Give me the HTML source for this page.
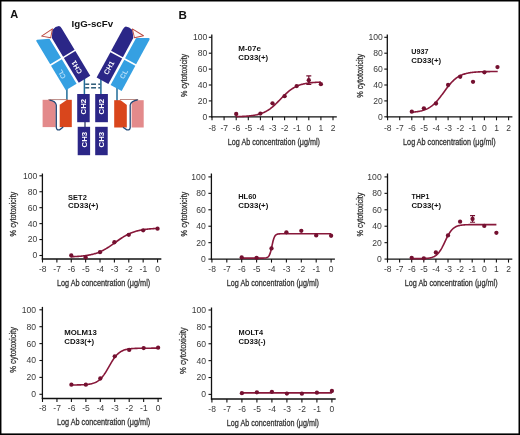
<!DOCTYPE html>
<html><head><meta charset="utf-8"><style>
html,body{margin:0;padding:0;background:#fff;}
svg{display:block;font-family:"Liberation Sans", sans-serif;will-change:transform;}
</style></head><body>
<svg width="520" height="435" viewBox="0 0 520 435">
<rect x="0" y="0" width="520" height="435" fill="#fff"/>
<text x="10.2" y="17.8" font-size="11" font-weight="bold" fill="#111">A</text>
<text x="178.4" y="18.5" font-size="11.6" font-weight="bold" fill="#111">B</text>
<text x="71.5" y="27.2" font-size="9" font-weight="bold" textLength="41.6" lengthAdjust="spacingAndGlyphs" fill="#111">IgG-scFv</text>
<line x1="84.4" y1="78" x2="84.4" y2="95" stroke="#1f6b98" stroke-width="1.5"/>
<line x1="100.9" y1="78" x2="100.9" y2="95" stroke="#1f6b98" stroke-width="1.5"/>
<line x1="66.9" y1="86" x2="66.9" y2="101" stroke="#1f6b98" stroke-width="1.5"/>
<line x1="117.0" y1="86" x2="117.0" y2="101" stroke="#1f6b98" stroke-width="1.5"/>
<line x1="85.2" y1="84.2" x2="89.2" y2="84.2" stroke="#1d4f6e" stroke-width="1.4"/>
<line x1="91.1" y1="84.2" x2="96" y2="84.2" stroke="#1d4f6e" stroke-width="1.4"/>
<line x1="98.3" y1="84.2" x2="100.2" y2="84.2" stroke="#1d4f6e" stroke-width="1.4"/>
<line x1="85.2" y1="87.8" x2="89.2" y2="87.8" stroke="#1d4f6e" stroke-width="1.4"/>
<line x1="91.1" y1="87.8" x2="96" y2="87.8" stroke="#1d4f6e" stroke-width="1.4"/>
<line x1="98.3" y1="87.8" x2="100.2" y2="87.8" stroke="#1d4f6e" stroke-width="1.4"/>
<g transform="translate(51.3,38.6) rotate(-31)">
<path d="M-14.2,-5.3 Q-14.2,-6.7 -12.8,-6.4 L-1.6,-0.9 L-1.6,21.5 L-14.2,21.5 Z" fill="#35a0e2"/>
<path d="M-14.2,23.1 L-1.6,23.1 L-1.6,51.8 L-14.2,51.8 Z" fill="#35a0e2"/>
<path d="M0.8,-0.2 L5.4,-6.9 Q10,-8.4 13,-6.8 Q14.2,-5.6 14.2,-3 L14.2,21.6 L0.8,21.6 Z" fill="#2b2687"/>
<path d="M0.8,23.1 L14.2,23.1 L14.2,52 L0.8,52 Z" fill="#2b2687"/>
<path d="M-7.1,-7.1 L6.0,-7.8 L-0.1,-1.0 Z" fill="#fff8f6" stroke="#b9473f" stroke-width="0.9" stroke-linejoin="round"/>
</g>
<g transform="translate(185.2,0) scale(-1,1) translate(51.3,38.6) rotate(-28.5)">
<path d="M-14.2,-6.5 Q-14.2,-7.9 -12.8,-7.6 L-2.2,-2.0 L-1.6,-1.4 L-1.6,21.5 L-14.2,21.5 Z" fill="#35a0e2"/>
<path d="M-14.2,23.1 L-1.6,23.1 L-1.6,51.8 L-14.2,51.8 Z" fill="#35a0e2"/>
<path d="M0.8,-0.2 L5.4,-6.9 Q10,-8.4 13,-6.8 Q14.2,-5.6 14.2,-3 L14.2,21.6 L0.8,21.6 Z" fill="#2b2687"/>
<path d="M0.8,23.1 L14.2,23.1 L14.2,52 L0.8,52 Z" fill="#2b2687"/>
<path d="M-7.1,-7.1 L6.0,-7.8 L-0.1,-1.0 Z" fill="#fff8f6" stroke="#b9473f" stroke-width="0.9" stroke-linejoin="round"/>
</g>
<g transform="translate(51.3,38.6) rotate(-31)"><text transform="translate(7.5,37.6) rotate(-90)" font-size="7.1" font-weight="bold" fill="#fff" text-anchor="middle" dominant-baseline="central">CH1</text><text transform="translate(-9.0,36.0) rotate(-90)" font-size="7.1" font-weight="bold" fill="#b5def9" text-anchor="middle" dominant-baseline="central">CL</text></g>
<g transform="translate(133.9,38.6) rotate(28.5)"><text transform="translate(-7.5,37.6) rotate(-90)" font-size="7.1" font-weight="bold" fill="#fff" text-anchor="middle" dominant-baseline="central">CH1</text><text transform="translate(8.6,36.0) rotate(-90)" font-size="7.1" font-weight="bold" fill="#b5def9" text-anchor="middle" dominant-baseline="central">CL</text></g>
<rect x="77.2" y="94.0" width="12.5" height="28.2" fill="#2b2687"/>
<text transform="translate(83.65,106.70) rotate(-90)" font-size="7.8" font-weight="bold" fill="#fff" text-anchor="middle" dominant-baseline="central">CH2</text>
<rect x="95.2" y="94.0" width="12.7" height="28.2" fill="#2b2687"/>
<text transform="translate(101.75,106.70) rotate(-90)" font-size="7.8" font-weight="bold" fill="#fff" text-anchor="middle" dominant-baseline="central">CH2</text>
<rect x="77.7" y="126.8" width="12.4" height="28.4" fill="#2b2687"/>
<text transform="translate(84.10,139.60) rotate(-90)" font-size="7.8" font-weight="bold" fill="#fff" text-anchor="middle" dominant-baseline="central">CH3</text>
<rect x="95.2" y="126.8" width="12.5" height="28.4" fill="#2b2687"/>
<text transform="translate(101.65,139.60) rotate(-90)" font-size="7.8" font-weight="bold" fill="#fff" text-anchor="middle" dominant-baseline="central">CH3</text>
<line x1="85" y1="122" x2="85" y2="127" stroke="#1e2a5a" stroke-width="1.2"/>
<rect x="42.6" y="99.8" width="13.2" height="27.3" fill="#e38a8b"/>
<rect x="59.7" y="99.8" width="12.1" height="27.3" fill="#d9461c"/>
<path d="M48.3,99.6 L67.4,99.6 L60.1,104.6 L56.7,104.6 Q55,100.8 48.3,99.6 Z" fill="#fff"/>
<path d="M48.3,99.6 L67.2,99.6" stroke="#8a3a30" stroke-width="0.6"/>
<path d="M49.5,100.2 Q55.6,101.2 56.3,105 L56.3,127.5 Q56.6,130.6 59.6,129.8 L63.2,127" fill="none" stroke="#234a78" stroke-width="1.3"/>
<rect x="114.2" y="100.2" width="12.6" height="27.3" fill="#d9461c"/>
<rect x="131.6" y="100.2" width="12.1" height="27.3" fill="#e38a8b"/>
<path d="M119.7,99.5 L138.2,99.5 Q131,100.8 129.3,104.7 L126.6,104.7 Z" fill="#fff"/>
<path d="M119.9,99.5 L138.2,99.5" stroke="#8a3a30" stroke-width="0.6"/>
<path d="M137.7,99.8 Q131,100.8 130.2,105 L130.2,127.6 Q129.9,130.6 126.8,129.8 L123,127.3" fill="none" stroke="#234a78" stroke-width="1.3"/>
<line x1="211.8" y1="34.4" x2="211.8" y2="117.39999999999999" stroke="#111" stroke-width="1.3"/>
<line x1="211.20000000000002" y1="116.8" x2="336.8" y2="116.8" stroke="#111" stroke-width="1.3"/>
<line x1="208.8" y1="116.80" x2="211.8" y2="116.80" stroke="#111" stroke-width="1.1"/>
<text x="207.40" y="119.70" font-size="8.6" text-anchor="end" fill="#3a3a3a">0</text>
<line x1="208.8" y1="100.90" x2="211.8" y2="100.90" stroke="#111" stroke-width="1.1"/>
<text x="207.40" y="103.80" font-size="8.6" text-anchor="end" fill="#3a3a3a">20</text>
<line x1="208.8" y1="85.00" x2="211.8" y2="85.00" stroke="#111" stroke-width="1.1"/>
<text x="207.40" y="87.90" font-size="8.6" text-anchor="end" fill="#3a3a3a">40</text>
<line x1="208.8" y1="69.10" x2="211.8" y2="69.10" stroke="#111" stroke-width="1.1"/>
<text x="207.40" y="72.00" font-size="8.6" text-anchor="end" fill="#3a3a3a">60</text>
<line x1="208.8" y1="53.20" x2="211.8" y2="53.20" stroke="#111" stroke-width="1.1"/>
<text x="207.40" y="56.10" font-size="8.6" text-anchor="end" fill="#3a3a3a">80</text>
<line x1="208.8" y1="37.30" x2="211.8" y2="37.30" stroke="#111" stroke-width="1.1"/>
<text x="207.40" y="40.20" font-size="8.6" text-anchor="end" fill="#3a3a3a">100</text>
<line x1="212.00" y1="116.8" x2="212.00" y2="120.3" stroke="#111" stroke-width="1.1"/>
<text x="212.20" y="130.90" font-size="8.5" text-anchor="middle" fill="#3a3a3a">-8</text>
<line x1="224.10" y1="116.8" x2="224.10" y2="120.3" stroke="#111" stroke-width="1.1"/>
<text x="224.30" y="130.90" font-size="8.5" text-anchor="middle" fill="#3a3a3a">-7</text>
<line x1="236.20" y1="116.8" x2="236.20" y2="120.3" stroke="#111" stroke-width="1.1"/>
<text x="236.40" y="130.90" font-size="8.5" text-anchor="middle" fill="#3a3a3a">-6</text>
<line x1="248.30" y1="116.8" x2="248.30" y2="120.3" stroke="#111" stroke-width="1.1"/>
<text x="248.50" y="130.90" font-size="8.5" text-anchor="middle" fill="#3a3a3a">-5</text>
<line x1="260.40" y1="116.8" x2="260.40" y2="120.3" stroke="#111" stroke-width="1.1"/>
<text x="260.60" y="130.90" font-size="8.5" text-anchor="middle" fill="#3a3a3a">-4</text>
<line x1="272.50" y1="116.8" x2="272.50" y2="120.3" stroke="#111" stroke-width="1.1"/>
<text x="272.70" y="130.90" font-size="8.5" text-anchor="middle" fill="#3a3a3a">-3</text>
<line x1="284.60" y1="116.8" x2="284.60" y2="120.3" stroke="#111" stroke-width="1.1"/>
<text x="284.80" y="130.90" font-size="8.5" text-anchor="middle" fill="#3a3a3a">-2</text>
<line x1="296.70" y1="116.8" x2="296.70" y2="120.3" stroke="#111" stroke-width="1.1"/>
<text x="296.90" y="130.90" font-size="8.5" text-anchor="middle" fill="#3a3a3a">-1</text>
<line x1="308.80" y1="116.8" x2="308.80" y2="120.3" stroke="#111" stroke-width="1.1"/>
<text x="308.80" y="130.90" font-size="8.5" text-anchor="middle" fill="#3a3a3a">0</text>
<line x1="320.90" y1="116.8" x2="320.90" y2="120.3" stroke="#111" stroke-width="1.1"/>
<text x="320.90" y="130.90" font-size="8.5" text-anchor="middle" fill="#3a3a3a">1</text>
<line x1="333.00" y1="116.8" x2="333.00" y2="120.3" stroke="#111" stroke-width="1.1"/>
<text x="333.00" y="130.90" font-size="8.5" text-anchor="middle" fill="#3a3a3a">2</text>
<text x="227.8" y="144.9" font-size="9.7" textLength="92.2" lengthAdjust="spacingAndGlyphs" fill="#333" stroke="#333" stroke-width="0.3">Log Ab concentration (&#956;g/ml)</text>
<text transform="translate(187.30,75.45) rotate(-90)" font-size="9.6" text-anchor="middle" textLength="43.2" lengthAdjust="spacingAndGlyphs" fill="#333" stroke="#333" stroke-width="0.3">% cytotoxicity</text>
<text x="238.30" y="50.95" font-size="7.9" font-weight="bold" textLength="22.60" lengthAdjust="spacingAndGlyphs" fill="#111">M-07e</text>
<text x="238.30" y="59.85" font-size="7.9" font-weight="bold" textLength="29.80" lengthAdjust="spacingAndGlyphs" fill="#111">CD33(+)</text>
<polyline points="236.20,116.61 236.91,116.59 237.61,116.58 238.32,116.56 239.02,116.54 239.73,116.51 240.44,116.49 241.14,116.46 241.85,116.43 242.55,116.40 243.26,116.37 243.96,116.33 244.67,116.29 245.38,116.25 246.08,116.20 246.79,116.15 247.49,116.09 248.20,116.03 248.91,115.97 249.61,115.90 250.32,115.82 251.02,115.74 251.73,115.65 252.43,115.55 253.14,115.45 253.85,115.33 254.55,115.21 255.26,115.08 255.96,114.94 256.67,114.79 257.38,114.62 258.08,114.45 258.79,114.26 259.49,114.05 260.20,113.84 260.90,113.60 261.61,113.35 262.32,113.08 263.02,112.80 263.73,112.49 264.43,112.17 265.14,111.82 265.85,111.46 266.55,111.07 267.26,110.66 267.96,110.23 268.67,109.77 269.37,109.29 270.08,108.79 270.79,108.26 271.49,107.71 272.20,107.14 272.90,106.55 273.61,105.93 274.31,105.30 275.02,104.65 275.73,103.98 276.43,103.30 277.14,102.60 277.84,101.89 278.55,101.18 279.26,100.45 279.96,99.73 280.67,99.00 281.37,98.27 282.08,97.55 282.78,96.83 283.49,96.12 284.20,95.42 284.90,94.74 285.61,94.07 286.31,93.41 287.02,92.78 287.73,92.16 288.43,91.56 289.14,90.99 289.84,90.44 290.55,89.91 291.25,89.40 291.96,88.92 292.67,88.46 293.37,88.02 294.08,87.61 294.78,87.22 295.49,86.85 296.20,86.50 296.90,86.17 297.61,85.87 298.31,85.58 299.02,85.31 299.73,85.05 300.43,84.82 301.14,84.60 301.84,84.39 302.55,84.20 303.25,84.02 303.96,83.86 304.67,83.70 305.37,83.56 306.08,83.43 306.78,83.30 307.49,83.19 308.19,83.08 308.90,82.99 309.61,82.90 310.31,82.81 311.02,82.74 311.72,82.66 312.43,82.60 313.14,82.54 313.84,82.48 314.55,82.43 315.25,82.38 315.96,82.34 316.67,82.30 317.37,82.26 318.08,82.22 318.78,82.19 319.49,82.16 320.19,82.14 320.90,82.11" fill="none" stroke="#88183a" stroke-width="1.6"/>
<path d="M308.80,84.36V75.86M306.30,84.36h5M306.30,75.86h5" stroke="#741030" stroke-width="1.2" fill="none"/>
<circle cx="236.20" cy="114.02" r="2.15" fill="#741030"/>
<circle cx="260.40" cy="113.62" r="2.15" fill="#741030"/>
<circle cx="272.50" cy="103.28" r="2.15" fill="#741030"/>
<circle cx="284.60" cy="96.13" r="2.15" fill="#741030"/>
<circle cx="296.70" cy="86.03" r="2.15" fill="#741030"/>
<circle cx="308.80" cy="80.23" r="2.15" fill="#741030"/>
<circle cx="320.90" cy="84.20" r="2.15" fill="#741030"/>
<line x1="387.3" y1="34.4" x2="387.3" y2="117.39999999999999" stroke="#111" stroke-width="1.3"/>
<line x1="386.7" y1="116.8" x2="512.4" y2="116.8" stroke="#111" stroke-width="1.3"/>
<line x1="384.3" y1="116.80" x2="387.3" y2="116.80" stroke="#111" stroke-width="1.1"/>
<text x="382.80" y="119.70" font-size="8.6" text-anchor="end" fill="#3a3a3a">0</text>
<line x1="384.3" y1="100.90" x2="387.3" y2="100.90" stroke="#111" stroke-width="1.1"/>
<text x="382.80" y="103.80" font-size="8.6" text-anchor="end" fill="#3a3a3a">20</text>
<line x1="384.3" y1="85.00" x2="387.3" y2="85.00" stroke="#111" stroke-width="1.1"/>
<text x="382.80" y="87.90" font-size="8.6" text-anchor="end" fill="#3a3a3a">40</text>
<line x1="384.3" y1="69.10" x2="387.3" y2="69.10" stroke="#111" stroke-width="1.1"/>
<text x="382.80" y="72.00" font-size="8.6" text-anchor="end" fill="#3a3a3a">60</text>
<line x1="384.3" y1="53.20" x2="387.3" y2="53.20" stroke="#111" stroke-width="1.1"/>
<text x="382.80" y="56.10" font-size="8.6" text-anchor="end" fill="#3a3a3a">80</text>
<line x1="384.3" y1="37.30" x2="387.3" y2="37.30" stroke="#111" stroke-width="1.1"/>
<text x="382.80" y="40.20" font-size="8.6" text-anchor="end" fill="#3a3a3a">100</text>
<line x1="387.60" y1="116.8" x2="387.60" y2="120.3" stroke="#111" stroke-width="1.1"/>
<text x="387.80" y="130.70" font-size="8.5" text-anchor="middle" fill="#3a3a3a">-8</text>
<line x1="399.70" y1="116.8" x2="399.70" y2="120.3" stroke="#111" stroke-width="1.1"/>
<text x="399.90" y="130.70" font-size="8.5" text-anchor="middle" fill="#3a3a3a">-7</text>
<line x1="411.80" y1="116.8" x2="411.80" y2="120.3" stroke="#111" stroke-width="1.1"/>
<text x="412.00" y="130.70" font-size="8.5" text-anchor="middle" fill="#3a3a3a">-6</text>
<line x1="423.90" y1="116.8" x2="423.90" y2="120.3" stroke="#111" stroke-width="1.1"/>
<text x="424.10" y="130.70" font-size="8.5" text-anchor="middle" fill="#3a3a3a">-5</text>
<line x1="436.00" y1="116.8" x2="436.00" y2="120.3" stroke="#111" stroke-width="1.1"/>
<text x="436.20" y="130.70" font-size="8.5" text-anchor="middle" fill="#3a3a3a">-4</text>
<line x1="448.10" y1="116.8" x2="448.10" y2="120.3" stroke="#111" stroke-width="1.1"/>
<text x="448.30" y="130.70" font-size="8.5" text-anchor="middle" fill="#3a3a3a">-3</text>
<line x1="460.20" y1="116.8" x2="460.20" y2="120.3" stroke="#111" stroke-width="1.1"/>
<text x="460.40" y="130.70" font-size="8.5" text-anchor="middle" fill="#3a3a3a">-2</text>
<line x1="472.30" y1="116.8" x2="472.30" y2="120.3" stroke="#111" stroke-width="1.1"/>
<text x="472.50" y="130.70" font-size="8.5" text-anchor="middle" fill="#3a3a3a">-1</text>
<line x1="484.40" y1="116.8" x2="484.40" y2="120.3" stroke="#111" stroke-width="1.1"/>
<text x="484.40" y="130.70" font-size="8.5" text-anchor="middle" fill="#3a3a3a">0</text>
<line x1="496.50" y1="116.8" x2="496.50" y2="120.3" stroke="#111" stroke-width="1.1"/>
<text x="496.50" y="130.70" font-size="8.5" text-anchor="middle" fill="#3a3a3a">1</text>
<line x1="508.60" y1="116.8" x2="508.60" y2="120.3" stroke="#111" stroke-width="1.1"/>
<text x="508.60" y="130.70" font-size="8.5" text-anchor="middle" fill="#3a3a3a">2</text>
<text x="403.1" y="144.8" font-size="9.7" textLength="92.5" lengthAdjust="spacingAndGlyphs" fill="#333" stroke="#333" stroke-width="0.3">Log Ab concentration (&#956;g/ml)</text>
<text transform="translate(362.50,75.80) rotate(-90)" font-size="9.6" text-anchor="middle" textLength="43.9" lengthAdjust="spacingAndGlyphs" fill="#333" stroke="#333" stroke-width="0.3">% cytotoxicity</text>
<text x="411.30" y="53.75" font-size="7.9" font-weight="bold" textLength="17.10" lengthAdjust="spacingAndGlyphs" fill="#111">U937</text>
<text x="411.30" y="62.65" font-size="7.9" font-weight="bold" textLength="29.80" lengthAdjust="spacingAndGlyphs" fill="#111">CD33(+)</text>
<polyline points="411.80,112.26 412.52,112.20 413.23,112.14 413.95,112.07 414.66,112.00 415.38,111.92 416.10,111.83 416.81,111.73 417.53,111.62 418.24,111.51 418.96,111.38 419.68,111.24 420.39,111.09 421.11,110.92 421.82,110.74 422.54,110.54 423.25,110.33 423.97,110.10 424.69,109.84 425.40,109.57 426.12,109.27 426.83,108.95 427.55,108.60 428.27,108.23 428.98,107.82 429.70,107.39 430.41,106.92 431.13,106.42 431.85,105.89 432.56,105.32 433.28,104.71 433.99,104.08 434.71,103.40 435.43,102.69 436.14,101.94 436.86,101.16 437.57,100.34 438.29,99.50 439.00,98.62 439.72,97.72 440.44,96.79 441.15,95.85 441.87,94.89 442.58,93.91 443.30,92.93 444.02,91.95 444.73,90.96 445.45,89.98 446.16,89.01 446.88,88.06 447.60,87.12 448.31,86.21 449.03,85.32 449.74,84.45 450.46,83.62 451.18,82.82 451.89,82.05 452.61,81.32 453.32,80.62 454.04,79.96 454.75,79.34 455.47,78.75 456.19,78.19 456.90,77.67 457.62,77.19 458.33,76.74 459.05,76.31 459.77,75.92 460.48,75.56 461.20,75.22 461.91,74.91 462.63,74.62 463.35,74.36 464.06,74.11 464.78,73.89 465.49,73.68 466.21,73.49 466.93,73.32 467.64,73.16 468.36,73.01 469.07,72.88 469.79,72.75 470.51,72.64 471.22,72.54 471.94,72.44 472.65,72.36 473.37,72.28 474.08,72.21 474.80,72.15 475.52,72.09 476.23,72.03 476.95,71.98 477.66,71.94 478.38,71.90 479.10,71.86 479.81,71.83 480.53,71.80 481.24,71.77 481.96,71.74 482.68,71.72 483.39,71.70 484.11,71.68 484.82,71.66 485.54,71.64 486.26,71.63 486.97,71.62 487.69,71.61 488.40,71.59 489.12,71.58 489.83,71.58 490.55,71.57 491.27,71.56 491.98,71.55 492.70,71.55 493.41,71.54 494.13,71.54 494.85,71.53 495.56,71.53 496.28,71.52 496.99,71.52 497.71,71.52" fill="none" stroke="#88183a" stroke-width="1.6"/>
<circle cx="411.80" cy="111.71" r="2.15" fill="#741030"/>
<circle cx="423.90" cy="108.29" r="2.15" fill="#741030"/>
<circle cx="436.00" cy="103.52" r="2.15" fill="#741030"/>
<circle cx="448.10" cy="85.00" r="2.15" fill="#741030"/>
<circle cx="460.20" cy="76.73" r="2.15" fill="#741030"/>
<circle cx="473.03" cy="81.82" r="2.15" fill="#741030"/>
<circle cx="484.40" cy="72.28" r="2.15" fill="#741030"/>
<circle cx="497.47" cy="67.11" r="2.15" fill="#741030"/>
<line x1="42.4" y1="173.5" x2="42.4" y2="259.6" stroke="#111" stroke-width="1.3"/>
<line x1="41.8" y1="259.0" x2="161.34000000000003" y2="259.0" stroke="#111" stroke-width="1.3"/>
<line x1="39.4" y1="255.50" x2="42.4" y2="255.50" stroke="#111" stroke-width="1.1"/>
<text x="37.40" y="258.40" font-size="8.6" text-anchor="end" fill="#3a3a3a">0</text>
<line x1="39.4" y1="239.56" x2="42.4" y2="239.56" stroke="#111" stroke-width="1.1"/>
<text x="37.40" y="242.46" font-size="8.6" text-anchor="end" fill="#3a3a3a">20</text>
<line x1="39.4" y1="223.62" x2="42.4" y2="223.62" stroke="#111" stroke-width="1.1"/>
<text x="37.40" y="226.52" font-size="8.6" text-anchor="end" fill="#3a3a3a">40</text>
<line x1="39.4" y1="207.68" x2="42.4" y2="207.68" stroke="#111" stroke-width="1.1"/>
<text x="37.40" y="210.58" font-size="8.6" text-anchor="end" fill="#3a3a3a">60</text>
<line x1="39.4" y1="191.74" x2="42.4" y2="191.74" stroke="#111" stroke-width="1.1"/>
<text x="37.40" y="194.64" font-size="8.6" text-anchor="end" fill="#3a3a3a">80</text>
<line x1="39.4" y1="175.80" x2="42.4" y2="175.80" stroke="#111" stroke-width="1.1"/>
<text x="37.40" y="178.70" font-size="8.6" text-anchor="end" fill="#3a3a3a">100</text>
<line x1="42.50" y1="259.0" x2="42.50" y2="262.5" stroke="#111" stroke-width="1.1"/>
<text x="42.70" y="272.00" font-size="8.5" text-anchor="middle" fill="#3a3a3a">-8</text>
<line x1="56.88" y1="259.0" x2="56.88" y2="262.5" stroke="#111" stroke-width="1.1"/>
<text x="57.08" y="272.00" font-size="8.5" text-anchor="middle" fill="#3a3a3a">-7</text>
<line x1="71.26" y1="259.0" x2="71.26" y2="262.5" stroke="#111" stroke-width="1.1"/>
<text x="71.46" y="272.00" font-size="8.5" text-anchor="middle" fill="#3a3a3a">-6</text>
<line x1="85.64" y1="259.0" x2="85.64" y2="262.5" stroke="#111" stroke-width="1.1"/>
<text x="85.84" y="272.00" font-size="8.5" text-anchor="middle" fill="#3a3a3a">-5</text>
<line x1="100.02" y1="259.0" x2="100.02" y2="262.5" stroke="#111" stroke-width="1.1"/>
<text x="100.22" y="272.00" font-size="8.5" text-anchor="middle" fill="#3a3a3a">-4</text>
<line x1="114.40" y1="259.0" x2="114.40" y2="262.5" stroke="#111" stroke-width="1.1"/>
<text x="114.60" y="272.00" font-size="8.5" text-anchor="middle" fill="#3a3a3a">-3</text>
<line x1="128.78" y1="259.0" x2="128.78" y2="262.5" stroke="#111" stroke-width="1.1"/>
<text x="128.98" y="272.00" font-size="8.5" text-anchor="middle" fill="#3a3a3a">-2</text>
<line x1="143.16" y1="259.0" x2="143.16" y2="262.5" stroke="#111" stroke-width="1.1"/>
<text x="143.36" y="272.00" font-size="8.5" text-anchor="middle" fill="#3a3a3a">-1</text>
<line x1="157.54" y1="259.0" x2="157.54" y2="262.5" stroke="#111" stroke-width="1.1"/>
<text x="157.54" y="272.00" font-size="8.5" text-anchor="middle" fill="#3a3a3a">0</text>
<text x="56.9" y="285.8" font-size="9.7" textLength="93.3" lengthAdjust="spacingAndGlyphs" fill="#333" stroke="#333" stroke-width="0.3">Log Ab concentration (&#956;g/ml)</text>
<text transform="translate(16.30,214.15) rotate(-90)" font-size="9.6" text-anchor="middle" textLength="44.6" lengthAdjust="spacingAndGlyphs" fill="#333" stroke="#333" stroke-width="0.3">% cytotoxicity</text>
<text x="68.10" y="199.55" font-size="7.9" font-weight="bold" textLength="18.70" lengthAdjust="spacingAndGlyphs" fill="#111">SET2</text>
<text x="68.10" y="208.45" font-size="7.9" font-weight="bold" textLength="30.30" lengthAdjust="spacingAndGlyphs" fill="#111">CD33(+)</text>
<polyline points="71.26,256.72 71.98,256.70 72.70,256.67 73.42,256.64 74.14,256.60 74.86,256.57 75.57,256.53 76.29,256.49 77.01,256.45 77.73,256.40 78.45,256.35 79.17,256.30 79.89,256.24 80.61,256.18 81.33,256.11 82.05,256.04 82.76,255.97 83.48,255.89 84.20,255.80 84.92,255.71 85.64,255.61 86.36,255.51 87.08,255.40 87.80,255.28 88.52,255.16 89.23,255.03 89.95,254.88 90.67,254.73 91.39,254.57 92.11,254.40 92.83,254.23 93.55,254.04 94.27,253.83 94.99,253.62 95.71,253.40 96.43,253.16 97.14,252.91 97.86,252.65 98.58,252.37 99.30,252.09 100.02,251.78 100.74,251.47 101.46,251.13 102.18,250.79 102.90,250.43 103.62,250.06 104.33,249.67 105.05,249.27 105.77,248.85 106.49,248.42 107.21,247.98 107.93,247.53 108.65,247.07 109.37,246.59 110.09,246.11 110.81,245.62 111.52,245.12 112.24,244.61 112.96,244.10 113.68,243.59 114.40,243.07 115.12,242.55 115.84,242.03 116.56,241.51 117.28,241.00 118.00,240.49 118.71,239.98 119.43,239.48 120.15,238.99 120.87,238.51 121.59,238.03 122.31,237.57 123.03,237.11 123.75,236.67 124.47,236.25 125.19,235.83 125.90,235.43 126.62,235.04 127.34,234.67 128.06,234.31 128.78,233.96 129.50,233.63 130.22,233.31 130.94,233.01 131.66,232.72 132.38,232.45 133.09,232.19 133.81,231.94 134.53,231.70 135.25,231.48 135.97,231.26 136.69,231.06 137.41,230.87 138.13,230.69 138.85,230.52 139.56,230.36 140.28,230.21 141.00,230.07 141.72,229.94 142.44,229.81 143.16,229.70 143.88,229.59 144.60,229.48 145.32,229.39 146.04,229.29 146.75,229.21 147.47,229.13 148.19,229.05 148.91,228.98 149.63,228.92 150.35,228.86 151.07,228.80 151.79,228.75 152.51,228.70 153.23,228.65 153.94,228.61 154.66,228.57 155.38,228.53 156.10,228.49 156.82,228.46 157.54,228.43" fill="none" stroke="#88183a" stroke-width="1.6"/>
<circle cx="71.26" cy="255.50" r="2.15" fill="#741030"/>
<circle cx="85.64" cy="257.41" r="2.15" fill="#741030"/>
<circle cx="100.02" cy="252.15" r="2.15" fill="#741030"/>
<circle cx="114.40" cy="242.27" r="2.15" fill="#741030"/>
<circle cx="128.78" cy="234.78" r="2.15" fill="#741030"/>
<circle cx="143.16" cy="230.31" r="2.15" fill="#741030"/>
<circle cx="157.54" cy="228.72" r="2.15" fill="#741030"/>
<line x1="211.4" y1="173.5" x2="211.4" y2="259.70000000000005" stroke="#111" stroke-width="1.3"/>
<line x1="210.8" y1="259.1" x2="334.90000000000003" y2="259.1" stroke="#111" stroke-width="1.3"/>
<line x1="208.4" y1="259.10" x2="211.4" y2="259.10" stroke="#111" stroke-width="1.1"/>
<text x="205.70" y="262.00" font-size="8.6" text-anchor="end" fill="#3a3a3a">0</text>
<line x1="208.4" y1="242.66" x2="211.4" y2="242.66" stroke="#111" stroke-width="1.1"/>
<text x="205.70" y="245.56" font-size="8.6" text-anchor="end" fill="#3a3a3a">20</text>
<line x1="208.4" y1="226.22" x2="211.4" y2="226.22" stroke="#111" stroke-width="1.1"/>
<text x="205.70" y="229.12" font-size="8.6" text-anchor="end" fill="#3a3a3a">40</text>
<line x1="208.4" y1="209.78" x2="211.4" y2="209.78" stroke="#111" stroke-width="1.1"/>
<text x="205.70" y="212.68" font-size="8.6" text-anchor="end" fill="#3a3a3a">60</text>
<line x1="208.4" y1="193.34" x2="211.4" y2="193.34" stroke="#111" stroke-width="1.1"/>
<text x="205.70" y="196.24" font-size="8.6" text-anchor="end" fill="#3a3a3a">80</text>
<line x1="208.4" y1="176.90" x2="211.4" y2="176.90" stroke="#111" stroke-width="1.1"/>
<text x="205.70" y="179.80" font-size="8.6" text-anchor="end" fill="#3a3a3a">100</text>
<line x1="211.90" y1="259.1" x2="211.90" y2="262.6" stroke="#111" stroke-width="1.1"/>
<text x="212.10" y="271.80" font-size="8.5" text-anchor="middle" fill="#3a3a3a">-8</text>
<line x1="226.80" y1="259.1" x2="226.80" y2="262.6" stroke="#111" stroke-width="1.1"/>
<text x="227.00" y="271.80" font-size="8.5" text-anchor="middle" fill="#3a3a3a">-7</text>
<line x1="241.70" y1="259.1" x2="241.70" y2="262.6" stroke="#111" stroke-width="1.1"/>
<text x="241.90" y="271.80" font-size="8.5" text-anchor="middle" fill="#3a3a3a">-6</text>
<line x1="256.60" y1="259.1" x2="256.60" y2="262.6" stroke="#111" stroke-width="1.1"/>
<text x="256.80" y="271.80" font-size="8.5" text-anchor="middle" fill="#3a3a3a">-5</text>
<line x1="271.50" y1="259.1" x2="271.50" y2="262.6" stroke="#111" stroke-width="1.1"/>
<text x="271.70" y="271.80" font-size="8.5" text-anchor="middle" fill="#3a3a3a">-4</text>
<line x1="286.40" y1="259.1" x2="286.40" y2="262.6" stroke="#111" stroke-width="1.1"/>
<text x="286.60" y="271.80" font-size="8.5" text-anchor="middle" fill="#3a3a3a">-3</text>
<line x1="301.30" y1="259.1" x2="301.30" y2="262.6" stroke="#111" stroke-width="1.1"/>
<text x="301.50" y="271.80" font-size="8.5" text-anchor="middle" fill="#3a3a3a">-2</text>
<line x1="316.20" y1="259.1" x2="316.20" y2="262.6" stroke="#111" stroke-width="1.1"/>
<text x="316.40" y="271.80" font-size="8.5" text-anchor="middle" fill="#3a3a3a">-1</text>
<line x1="331.10" y1="259.1" x2="331.10" y2="262.6" stroke="#111" stroke-width="1.1"/>
<text x="331.10" y="271.80" font-size="8.5" text-anchor="middle" fill="#3a3a3a">0</text>
<text x="226.8" y="285.8" font-size="9.7" textLength="92.2" lengthAdjust="spacingAndGlyphs" fill="#333" stroke="#333" stroke-width="0.3">Log Ab concentration (&#956;g/ml)</text>
<text transform="translate(186.50,214.15) rotate(-90)" font-size="9.6" text-anchor="middle" textLength="44.6" lengthAdjust="spacingAndGlyphs" fill="#333" stroke="#333" stroke-width="0.3">% cytotoxicity</text>
<text x="238.20" y="199.15" font-size="7.9" font-weight="bold" textLength="18.30" lengthAdjust="spacingAndGlyphs" fill="#111">HL60</text>
<text x="238.20" y="208.05" font-size="7.9" font-weight="bold" textLength="30.10" lengthAdjust="spacingAndGlyphs" fill="#111">CD33(+)</text>
<polyline points="241.70,258.11 242.44,258.11 243.19,258.11 243.94,258.11 244.68,258.11 245.43,258.11 246.17,258.11 246.91,258.11 247.66,258.11 248.41,258.11 249.15,258.11 249.90,258.11 250.64,258.11 251.39,258.11 252.13,258.11 252.88,258.11 253.62,258.11 254.37,258.11 255.11,258.11 255.86,258.11 256.60,258.11 257.35,258.11 258.09,258.11 258.84,258.11 259.58,258.11 260.32,258.11 261.07,258.11 261.81,258.10 262.56,258.10 263.31,258.08 264.05,258.06 264.80,258.02 265.54,257.94 266.29,257.81 267.03,257.58 267.77,257.18 268.52,256.50 269.26,255.39 270.01,253.66 270.75,251.19 271.50,248.03 272.25,244.55 272.99,241.29 273.74,238.67 274.48,236.79 275.23,235.57 275.97,234.82 276.72,234.38 277.46,234.12 278.21,233.97 278.95,233.89 279.69,233.84 280.44,233.82 281.19,233.80 281.93,233.79 282.68,233.79 283.42,233.79 284.17,233.78 284.91,233.78 285.66,233.78 286.40,233.78 287.14,233.78 287.89,233.78 288.63,233.78 289.38,233.78 290.12,233.78 290.87,233.78 291.62,233.78 292.36,233.78 293.11,233.78 293.85,233.78 294.60,233.78 295.34,233.78 296.09,233.78 296.83,233.78 297.57,233.78 298.32,233.78 299.06,233.78 299.81,233.78 300.56,233.78 301.30,233.78 302.05,233.78 302.79,233.78 303.54,233.78 304.28,233.78 305.02,233.78 305.77,233.78 306.51,233.78 307.26,233.78 308.00,233.78 308.75,233.78 309.50,233.78 310.24,233.78 310.99,233.78 311.73,233.78 312.48,233.78 313.22,233.78 313.97,233.78 314.71,233.78 315.46,233.78 316.20,233.78 316.94,233.78 317.69,233.78 318.44,233.78 319.18,233.78 319.93,233.78 320.67,233.78 321.42,233.78 322.16,233.78 322.91,233.78 323.65,233.78 324.39,233.78 325.14,233.78 325.88,233.78 326.63,233.78 327.38,233.78 328.12,233.78 328.87,233.78 329.61,233.78 330.36,233.78 331.10,233.78" fill="none" stroke="#88183a" stroke-width="1.6"/>
<circle cx="241.70" cy="257.46" r="2.15" fill="#741030"/>
<circle cx="256.60" cy="257.87" r="2.15" fill="#741030"/>
<circle cx="271.50" cy="248.41" r="2.15" fill="#741030"/>
<circle cx="286.40" cy="232.30" r="2.15" fill="#741030"/>
<circle cx="301.30" cy="230.82" r="2.15" fill="#741030"/>
<circle cx="316.20" cy="235.43" r="2.15" fill="#741030"/>
<circle cx="331.10" cy="235.76" r="2.15" fill="#741030"/>
<line x1="387.5" y1="173.5" x2="387.5" y2="259.70000000000005" stroke="#111" stroke-width="1.3"/>
<line x1="386.9" y1="259.1" x2="512.3" y2="259.1" stroke="#111" stroke-width="1.3"/>
<line x1="384.5" y1="259.10" x2="387.5" y2="259.10" stroke="#111" stroke-width="1.1"/>
<text x="381.70" y="262.00" font-size="8.6" text-anchor="end" fill="#3a3a3a">0</text>
<line x1="384.5" y1="242.66" x2="387.5" y2="242.66" stroke="#111" stroke-width="1.1"/>
<text x="381.70" y="245.56" font-size="8.6" text-anchor="end" fill="#3a3a3a">20</text>
<line x1="384.5" y1="226.22" x2="387.5" y2="226.22" stroke="#111" stroke-width="1.1"/>
<text x="381.70" y="229.12" font-size="8.6" text-anchor="end" fill="#3a3a3a">40</text>
<line x1="384.5" y1="209.78" x2="387.5" y2="209.78" stroke="#111" stroke-width="1.1"/>
<text x="381.70" y="212.68" font-size="8.6" text-anchor="end" fill="#3a3a3a">60</text>
<line x1="384.5" y1="193.34" x2="387.5" y2="193.34" stroke="#111" stroke-width="1.1"/>
<text x="381.70" y="196.24" font-size="8.6" text-anchor="end" fill="#3a3a3a">80</text>
<line x1="384.5" y1="176.90" x2="387.5" y2="176.90" stroke="#111" stroke-width="1.1"/>
<text x="381.70" y="179.80" font-size="8.6" text-anchor="end" fill="#3a3a3a">100</text>
<line x1="387.50" y1="259.1" x2="387.50" y2="262.6" stroke="#111" stroke-width="1.1"/>
<text x="387.70" y="271.60" font-size="8.5" text-anchor="middle" fill="#3a3a3a">-8</text>
<line x1="399.60" y1="259.1" x2="399.60" y2="262.6" stroke="#111" stroke-width="1.1"/>
<text x="399.80" y="271.60" font-size="8.5" text-anchor="middle" fill="#3a3a3a">-7</text>
<line x1="411.70" y1="259.1" x2="411.70" y2="262.6" stroke="#111" stroke-width="1.1"/>
<text x="411.90" y="271.60" font-size="8.5" text-anchor="middle" fill="#3a3a3a">-6</text>
<line x1="423.80" y1="259.1" x2="423.80" y2="262.6" stroke="#111" stroke-width="1.1"/>
<text x="424.00" y="271.60" font-size="8.5" text-anchor="middle" fill="#3a3a3a">-5</text>
<line x1="435.90" y1="259.1" x2="435.90" y2="262.6" stroke="#111" stroke-width="1.1"/>
<text x="436.10" y="271.60" font-size="8.5" text-anchor="middle" fill="#3a3a3a">-4</text>
<line x1="448.00" y1="259.1" x2="448.00" y2="262.6" stroke="#111" stroke-width="1.1"/>
<text x="448.20" y="271.60" font-size="8.5" text-anchor="middle" fill="#3a3a3a">-3</text>
<line x1="460.10" y1="259.1" x2="460.10" y2="262.6" stroke="#111" stroke-width="1.1"/>
<text x="460.30" y="271.60" font-size="8.5" text-anchor="middle" fill="#3a3a3a">-2</text>
<line x1="472.20" y1="259.1" x2="472.20" y2="262.6" stroke="#111" stroke-width="1.1"/>
<text x="472.40" y="271.60" font-size="8.5" text-anchor="middle" fill="#3a3a3a">-1</text>
<line x1="484.30" y1="259.1" x2="484.30" y2="262.6" stroke="#111" stroke-width="1.1"/>
<text x="484.30" y="271.60" font-size="8.5" text-anchor="middle" fill="#3a3a3a">0</text>
<line x1="496.40" y1="259.1" x2="496.40" y2="262.6" stroke="#111" stroke-width="1.1"/>
<text x="496.40" y="271.60" font-size="8.5" text-anchor="middle" fill="#3a3a3a">1</text>
<line x1="508.50" y1="259.1" x2="508.50" y2="262.6" stroke="#111" stroke-width="1.1"/>
<text x="508.50" y="271.60" font-size="8.5" text-anchor="middle" fill="#3a3a3a">2</text>
<text x="404.8" y="285.8" font-size="9.7" textLength="92.8" lengthAdjust="spacingAndGlyphs" fill="#333" stroke="#333" stroke-width="0.3">Log Ab concentration (&#956;g/ml)</text>
<text transform="translate(362.50,214.50) rotate(-90)" font-size="9.6" text-anchor="middle" textLength="43.9" lengthAdjust="spacingAndGlyphs" fill="#333" stroke="#333" stroke-width="0.3">% cytotoxicity</text>
<text x="411.50" y="199.15" font-size="7.9" font-weight="bold" textLength="17.80" lengthAdjust="spacingAndGlyphs" fill="#111">THP1</text>
<text x="411.50" y="208.05" font-size="7.9" font-weight="bold" textLength="29.60" lengthAdjust="spacingAndGlyphs" fill="#111">CD33(+)</text>
<polyline points="411.70,258.68 412.41,258.68 413.11,258.68 413.82,258.67 414.52,258.67 415.23,258.67 415.94,258.66 416.64,258.66 417.35,258.65 418.05,258.65 418.76,258.64 419.46,258.63 420.17,258.62 420.88,258.60 421.58,258.58 422.29,258.56 422.99,258.54 423.70,258.51 424.40,258.48 425.11,258.44 425.82,258.39 426.52,258.34 427.23,258.27 427.93,258.19 428.64,258.10 429.35,257.99 430.05,257.86 430.76,257.71 431.46,257.52 432.17,257.31 432.88,257.06 433.58,256.77 434.29,256.43 434.99,256.03 435.70,255.57 436.40,255.03 437.11,254.42 437.82,253.73 438.52,252.94 439.23,252.06 439.93,251.08 440.64,249.99 441.35,248.81 442.05,247.55 442.76,246.20 443.46,244.79 444.17,243.33 444.87,241.85 445.58,240.36 446.29,238.89 446.99,237.46 447.70,236.10 448.40,234.80 449.11,233.60 449.81,232.49 450.52,231.48 451.23,230.57 451.93,229.75 452.64,229.03 453.34,228.40 454.05,227.84 454.76,227.36 455.46,226.95 456.17,226.59 456.87,226.28 457.58,226.02 458.28,225.80 458.99,225.61 459.70,225.45 460.40,225.31 461.11,225.19 461.81,225.10 462.52,225.01 463.23,224.95 463.93,224.89 464.64,224.84 465.34,224.80 466.05,224.76 466.75,224.73 467.46,224.71 468.17,224.69 468.87,224.67 469.58,224.65 470.28,224.64 470.99,224.63 471.70,224.62 472.40,224.61 473.11,224.61 473.81,224.60 474.52,224.60 475.23,224.60 475.93,224.59 476.64,224.59 477.34,224.59 478.05,224.59 478.75,224.58 479.46,224.58 480.17,224.58 480.87,224.58 481.58,224.58 482.28,224.58 482.99,224.58 483.69,224.58 484.40,224.58 485.11,224.58 485.81,224.58 486.52,224.58 487.22,224.58 487.93,224.58 488.64,224.58 489.34,224.58 490.05,224.58 490.75,224.58 491.46,224.58 492.17,224.58 492.87,224.58 493.58,224.58 494.28,224.58 494.99,224.58 495.69,224.58 496.40,224.58" fill="none" stroke="#88183a" stroke-width="1.6"/>
<path d="M472.56,222.27V215.62M470.06,222.27h5M470.06,215.62h5" stroke="#741030" stroke-width="1.2" fill="none"/>
<circle cx="411.70" cy="257.87" r="2.15" fill="#741030"/>
<circle cx="423.80" cy="258.28" r="2.15" fill="#741030"/>
<circle cx="435.90" cy="252.52" r="2.15" fill="#741030"/>
<circle cx="448.00" cy="235.43" r="2.15" fill="#741030"/>
<circle cx="460.10" cy="221.70" r="2.15" fill="#741030"/>
<circle cx="472.56" cy="218.99" r="2.15" fill="#741030"/>
<circle cx="484.30" cy="225.97" r="2.15" fill="#741030"/>
<circle cx="496.40" cy="232.80" r="2.15" fill="#741030"/>
<line x1="42.4" y1="306.9" x2="42.4" y2="399.1" stroke="#111" stroke-width="1.3"/>
<line x1="41.8" y1="398.5" x2="161.9" y2="398.5" stroke="#111" stroke-width="1.3"/>
<line x1="39.4" y1="394.30" x2="42.4" y2="394.30" stroke="#111" stroke-width="1.1"/>
<text x="36.10" y="397.20" font-size="8.6" text-anchor="end" fill="#3a3a3a">0</text>
<line x1="39.4" y1="377.40" x2="42.4" y2="377.40" stroke="#111" stroke-width="1.1"/>
<text x="36.10" y="380.30" font-size="8.6" text-anchor="end" fill="#3a3a3a">20</text>
<line x1="39.4" y1="360.50" x2="42.4" y2="360.50" stroke="#111" stroke-width="1.1"/>
<text x="36.10" y="363.40" font-size="8.6" text-anchor="end" fill="#3a3a3a">40</text>
<line x1="39.4" y1="343.60" x2="42.4" y2="343.60" stroke="#111" stroke-width="1.1"/>
<text x="36.10" y="346.50" font-size="8.6" text-anchor="end" fill="#3a3a3a">60</text>
<line x1="39.4" y1="326.70" x2="42.4" y2="326.70" stroke="#111" stroke-width="1.1"/>
<text x="36.10" y="329.60" font-size="8.6" text-anchor="end" fill="#3a3a3a">80</text>
<line x1="39.4" y1="309.80" x2="42.4" y2="309.80" stroke="#111" stroke-width="1.1"/>
<text x="36.10" y="312.70" font-size="8.6" text-anchor="end" fill="#3a3a3a">100</text>
<line x1="42.50" y1="398.5" x2="42.50" y2="402.0" stroke="#111" stroke-width="1.1"/>
<text x="42.70" y="410.60" font-size="8.5" text-anchor="middle" fill="#3a3a3a">-8</text>
<line x1="56.95" y1="398.5" x2="56.95" y2="402.0" stroke="#111" stroke-width="1.1"/>
<text x="57.15" y="410.60" font-size="8.5" text-anchor="middle" fill="#3a3a3a">-7</text>
<line x1="71.40" y1="398.5" x2="71.40" y2="402.0" stroke="#111" stroke-width="1.1"/>
<text x="71.60" y="410.60" font-size="8.5" text-anchor="middle" fill="#3a3a3a">-6</text>
<line x1="85.85" y1="398.5" x2="85.85" y2="402.0" stroke="#111" stroke-width="1.1"/>
<text x="86.05" y="410.60" font-size="8.5" text-anchor="middle" fill="#3a3a3a">-5</text>
<line x1="100.30" y1="398.5" x2="100.30" y2="402.0" stroke="#111" stroke-width="1.1"/>
<text x="100.50" y="410.60" font-size="8.5" text-anchor="middle" fill="#3a3a3a">-4</text>
<line x1="114.75" y1="398.5" x2="114.75" y2="402.0" stroke="#111" stroke-width="1.1"/>
<text x="114.95" y="410.60" font-size="8.5" text-anchor="middle" fill="#3a3a3a">-3</text>
<line x1="129.20" y1="398.5" x2="129.20" y2="402.0" stroke="#111" stroke-width="1.1"/>
<text x="129.40" y="410.60" font-size="8.5" text-anchor="middle" fill="#3a3a3a">-2</text>
<line x1="143.65" y1="398.5" x2="143.65" y2="402.0" stroke="#111" stroke-width="1.1"/>
<text x="143.85" y="410.60" font-size="8.5" text-anchor="middle" fill="#3a3a3a">-1</text>
<line x1="158.10" y1="398.5" x2="158.10" y2="402.0" stroke="#111" stroke-width="1.1"/>
<text x="158.10" y="410.60" font-size="8.5" text-anchor="middle" fill="#3a3a3a">0</text>
<text x="56.9" y="424.7" font-size="9.7" textLength="93.3" lengthAdjust="spacingAndGlyphs" fill="#333" stroke="#333" stroke-width="0.3">Log Ab concentration (&#956;g/ml)</text>
<text transform="translate(16.30,349.80) rotate(-90)" font-size="9.6" text-anchor="middle" textLength="45.9" lengthAdjust="spacingAndGlyphs" fill="#333" stroke="#333" stroke-width="0.3">% cytotoxicity</text>
<text x="64.30" y="335.25" font-size="7.9" font-weight="bold" textLength="32.50" lengthAdjust="spacingAndGlyphs" fill="#111">MOLM13</text>
<text x="64.30" y="344.15" font-size="7.9" font-weight="bold" textLength="29.80" lengthAdjust="spacingAndGlyphs" fill="#111">CD33(+)</text>
<polyline points="71.40,384.98 72.12,384.97 72.84,384.97 73.57,384.96 74.29,384.96 75.01,384.95 75.73,384.94 76.46,384.93 77.18,384.92 77.90,384.91 78.62,384.89 79.35,384.88 80.07,384.86 80.79,384.84 81.52,384.81 82.24,384.78 82.96,384.75 83.68,384.71 84.41,384.67 85.13,384.62 85.85,384.57 86.57,384.50 87.29,384.43 88.02,384.35 88.74,384.25 89.46,384.14 90.19,384.02 90.91,383.88 91.63,383.71 92.35,383.53 93.07,383.32 93.80,383.09 94.52,382.82 95.24,382.52 95.97,382.18 96.69,381.79 97.41,381.36 98.13,380.89 98.86,380.35 99.58,379.76 100.30,379.11 101.02,378.39 101.74,377.61 102.47,376.76 103.19,375.84 103.91,374.86 104.63,373.81 105.36,372.70 106.08,371.55 106.80,370.35 107.52,369.11 108.25,367.85 108.97,366.58 109.69,365.31 110.42,364.06 111.14,362.82 111.86,361.62 112.58,360.46 113.31,359.36 114.03,358.31 114.75,357.33 115.47,356.41 116.19,355.56 116.92,354.78 117.64,354.06 118.36,353.41 119.08,352.82 119.81,352.28 120.53,351.80 121.25,351.37 121.97,350.99 122.70,350.65 123.42,350.35 124.14,350.08 124.86,349.85 125.59,349.64 126.31,349.45 127.03,349.29 127.75,349.15 128.48,349.03 129.20,348.92 129.92,348.82 130.64,348.74 131.37,348.66 132.09,348.60 132.81,348.54 133.53,348.50 134.26,348.45 134.98,348.42 135.70,348.38 136.43,348.36 137.15,348.33 137.87,348.31 138.59,348.29 139.31,348.27 140.04,348.26 140.76,348.25 141.48,348.24 142.20,348.23 142.93,348.22 143.65,348.21 144.37,348.21 145.09,348.20 145.82,348.20 146.54,348.19 147.26,348.19 147.98,348.18 148.71,348.18 149.43,348.18 150.15,348.18 150.88,348.18 151.60,348.17 152.32,348.17 153.04,348.17 153.76,348.17 154.49,348.17 155.21,348.17 155.93,348.17 156.66,348.17 157.38,348.17 158.10,348.17" fill="none" stroke="#88183a" stroke-width="1.6"/>
<circle cx="71.40" cy="384.67" r="2.15" fill="#741030"/>
<circle cx="85.85" cy="384.67" r="2.15" fill="#741030"/>
<circle cx="100.30" cy="378.50" r="2.15" fill="#741030"/>
<circle cx="114.75" cy="356.36" r="2.15" fill="#741030"/>
<circle cx="129.20" cy="349.94" r="2.15" fill="#741030"/>
<circle cx="143.65" cy="348.08" r="2.15" fill="#741030"/>
<circle cx="158.10" cy="347.66" r="2.15" fill="#741030"/>
<line x1="211.5" y1="307.5" x2="211.5" y2="399.6" stroke="#111" stroke-width="1.3"/>
<line x1="210.9" y1="399.0" x2="335.7" y2="399.0" stroke="#111" stroke-width="1.3"/>
<line x1="208.5" y1="394.40" x2="211.5" y2="394.40" stroke="#111" stroke-width="1.1"/>
<text x="206.00" y="397.30" font-size="8.6" text-anchor="end" fill="#3a3a3a">0</text>
<line x1="208.5" y1="377.52" x2="211.5" y2="377.52" stroke="#111" stroke-width="1.1"/>
<text x="206.00" y="380.42" font-size="8.6" text-anchor="end" fill="#3a3a3a">20</text>
<line x1="208.5" y1="360.64" x2="211.5" y2="360.64" stroke="#111" stroke-width="1.1"/>
<text x="206.00" y="363.54" font-size="8.6" text-anchor="end" fill="#3a3a3a">40</text>
<line x1="208.5" y1="343.76" x2="211.5" y2="343.76" stroke="#111" stroke-width="1.1"/>
<text x="206.00" y="346.66" font-size="8.6" text-anchor="end" fill="#3a3a3a">60</text>
<line x1="208.5" y1="326.88" x2="211.5" y2="326.88" stroke="#111" stroke-width="1.1"/>
<text x="206.00" y="329.78" font-size="8.6" text-anchor="end" fill="#3a3a3a">80</text>
<line x1="208.5" y1="310.00" x2="211.5" y2="310.00" stroke="#111" stroke-width="1.1"/>
<text x="206.00" y="312.90" font-size="8.6" text-anchor="end" fill="#3a3a3a">100</text>
<line x1="211.90" y1="399.0" x2="211.90" y2="402.5" stroke="#111" stroke-width="1.1"/>
<text x="212.10" y="411.70" font-size="8.5" text-anchor="middle" fill="#3a3a3a">-8</text>
<line x1="226.90" y1="399.0" x2="226.90" y2="402.5" stroke="#111" stroke-width="1.1"/>
<text x="227.10" y="411.70" font-size="8.5" text-anchor="middle" fill="#3a3a3a">-7</text>
<line x1="241.90" y1="399.0" x2="241.90" y2="402.5" stroke="#111" stroke-width="1.1"/>
<text x="242.10" y="411.70" font-size="8.5" text-anchor="middle" fill="#3a3a3a">-6</text>
<line x1="256.90" y1="399.0" x2="256.90" y2="402.5" stroke="#111" stroke-width="1.1"/>
<text x="257.10" y="411.70" font-size="8.5" text-anchor="middle" fill="#3a3a3a">-5</text>
<line x1="271.90" y1="399.0" x2="271.90" y2="402.5" stroke="#111" stroke-width="1.1"/>
<text x="272.10" y="411.70" font-size="8.5" text-anchor="middle" fill="#3a3a3a">-4</text>
<line x1="286.90" y1="399.0" x2="286.90" y2="402.5" stroke="#111" stroke-width="1.1"/>
<text x="287.10" y="411.70" font-size="8.5" text-anchor="middle" fill="#3a3a3a">-3</text>
<line x1="301.90" y1="399.0" x2="301.90" y2="402.5" stroke="#111" stroke-width="1.1"/>
<text x="302.10" y="411.70" font-size="8.5" text-anchor="middle" fill="#3a3a3a">-2</text>
<line x1="316.90" y1="399.0" x2="316.90" y2="402.5" stroke="#111" stroke-width="1.1"/>
<text x="317.10" y="411.70" font-size="8.5" text-anchor="middle" fill="#3a3a3a">-1</text>
<line x1="331.90" y1="399.0" x2="331.90" y2="402.5" stroke="#111" stroke-width="1.1"/>
<text x="331.90" y="411.70" font-size="8.5" text-anchor="middle" fill="#3a3a3a">0</text>
<text x="226.8" y="425.5" font-size="9.7" textLength="92.2" lengthAdjust="spacingAndGlyphs" fill="#333" stroke="#333" stroke-width="0.3">Log Ab concentration (&#956;g/ml)</text>
<text transform="translate(186.30,350.70) rotate(-90)" font-size="9.6" text-anchor="middle" textLength="46.7" lengthAdjust="spacingAndGlyphs" fill="#333" stroke="#333" stroke-width="0.3">% cytotoxicity</text>
<text x="238.50" y="335.45" font-size="7.9" font-weight="bold" textLength="24.50" lengthAdjust="spacingAndGlyphs" fill="#111">MOLT4</text>
<text x="238.50" y="344.35" font-size="7.9" font-weight="bold" textLength="27.10" lengthAdjust="spacingAndGlyphs" fill="#111">CD33(-)</text>
<line x1="241.9" y1="392.88079999999997" x2="331.9" y2="392.88079999999997" stroke="#88183a" stroke-width="1.6"/>
<circle cx="241.90" cy="393.13" r="2.15" fill="#741030"/>
<circle cx="256.90" cy="392.29" r="2.15" fill="#741030"/>
<circle cx="271.90" cy="391.87" r="2.15" fill="#741030"/>
<circle cx="286.90" cy="393.56" r="2.15" fill="#741030"/>
<circle cx="301.90" cy="393.72" r="2.15" fill="#741030"/>
<circle cx="316.90" cy="392.71" r="2.15" fill="#741030"/>
<circle cx="331.90" cy="391.02" r="2.15" fill="#741030"/>
<rect x="0" y="0" width="520" height="1" fill="#000"/>
<rect x="0" y="1" width="520" height="1" fill="#000" opacity="0.5"/>
<rect x="0" y="0" width="1" height="435" fill="#000"/>
<rect x="1" y="0" width="1" height="435" fill="#000" opacity="0.45"/>
<rect x="519" y="0" width="1" height="435" fill="#000"/>
<rect x="518" y="0" width="1" height="435" fill="#000" opacity="0.5"/>
<rect x="0" y="434" width="520" height="1" fill="#000"/>
<rect x="0" y="433" width="520" height="1" fill="#000" opacity="0.6"/>
</svg>
</body></html>
